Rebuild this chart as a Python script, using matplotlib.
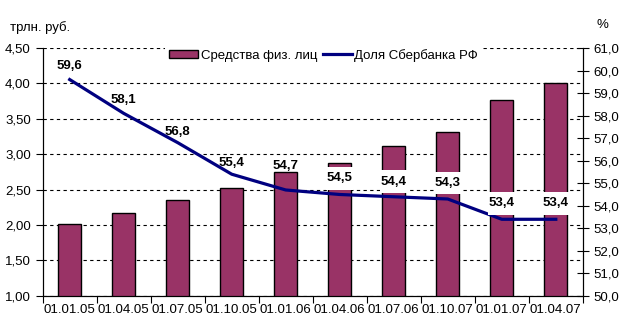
import matplotlib
matplotlib.use("Agg")
import matplotlib.pyplot as plt
from matplotlib.path import Path
import numpy as np

plt.rcParams['font.family'] = ['Liberation Sans', 'DejaVu Sans']

dates = ["01.01.05", "01.04.05", "01.07.05", "01.10.05", "01.01.06",
         "01.04.06", "01.07.06", "01.10.07", "01.01.07", "01.04.07"]
deposits = [2.02, 2.17, 2.36, 2.52, 2.745, 2.88, 3.11, 3.32, 3.77, 4.00]
share = [59.6, 58.1, 56.8, 55.4, 54.7, 54.5, 54.4, 54.3, 53.4, 53.4]

# how far above the point each label sits (pixels), and whether it has a white box
label_lift = [14, 13, 11, 11, 24, 16, 15, 16, 16, 16]
label_boxed = [False, False, False, False, False, True, True, True, True, True]

bar_color = "#993366"
line_color = "#000080"


def label_box(x0, y0, width, height, mutation_size, *args):
    # narrow sideways, tall up and down, like the excel labels
    px = 0.05 * mutation_size
    py = 0.4 * mutation_size
    x0, y0 = x0 - px, y0 - py
    x1, y1 = x0 + width + 2 * px, y0 + height + 2 * py
    return Path([(x0, y0), (x1, y0), (x1, y1), (x0, y1), (x0, y0)], closed=True)


fig = plt.figure(figsize=(6.24, 3.31), dpi=100)
ax = fig.add_axes([0.0684, 0.106, 0.8656, 0.749])
x = np.arange(len(dates))

# bars on the left axis
ax.bar(x, deposits, width=0.42, color=bar_color, edgecolor="black",
       linewidth=1.0, zorder=2, label="Средства физ. лиц")
ax.set_ylim(1.0, 4.5)
left_ticks = np.arange(1.0, 4.51, 0.5)
ax.set_yticks(left_ticks)
ax.set_yticklabels([("%.2f" % v).replace(".", ",") for v in left_ticks])
ax.yaxis.grid(True, linestyle=(0, (3, 3)), color="black", linewidth=0.8, zorder=0)
ax.set_axisbelow(True)
ax.set_xlim(-0.5, len(dates) - 0.5)
ax.set_xticks(np.arange(-0.5, len(dates), 1.0))
ax.set_xticklabels([])
ax.set_xticks(x, minor=True)
ax.set_xticklabels(dates, minor=True)
ax.tick_params(axis="x", which="minor", length=0, labelsize=9.5, pad=6)
ax.tick_params(axis="x", which="major", length=5, direction="out")
ax.tick_params(axis="y", length=5, direction="out", labelsize=9.5)
ax.spines["top"].set_visible(False)

# share line on the right axis
ax2 = ax.twinx()
ax2.plot(x, share, color=line_color, linewidth=2.3, zorder=3,
         label="Доля Сбербанка РФ")
ax2.set_ylim(50.0, 61.0)
right_ticks = np.arange(50.0, 61.1, 1.0)
ax2.set_yticks(right_ticks)
ax2.set_yticklabels([("%.1f" % v).replace(".", ",") for v in right_ticks])
ax2.tick_params(axis="y", length=8, direction="inout", labelsize=9.5)
ax2.spines["top"].set_visible(False)

for xi, yi, lift, boxed in zip(x, share, label_lift, label_boxed):
    box = None
    if boxed:
        box = dict(boxstyle=label_box, fc="white", ec="none")
    ax2.annotate(("%.1f" % yi).replace(".", ","), (xi, yi),
                 xytext=(0, lift * 0.72), textcoords="offset points",
                 ha="center", va="center", fontsize=9.5, fontweight="bold",
                 bbox=box, zorder=4)

h1, l1 = ax.get_legend_handles_labels()
h2, l2 = ax2.get_legend_handles_labels()
leg = ax2.legend(h1 + h2, l1 + l2, loc="upper center", bbox_to_anchor=(0.52, 1.04),
                 ncol=2, frameon=True, fontsize=9.5, handlelength=2.2,
                 handleheight=0.6, columnspacing=0.4, handletextpad=0.2,
                 borderpad=0.3, fancybox=False)
leg.get_frame().set_edgecolor("none")
leg.get_frame().set_facecolor("white")
leg.get_frame().set_alpha(1.0)

fig.text(0.016, 0.918, "трлн. руб.", fontsize=9.5, va="center", ha="left")
fig.text(0.966, 0.925, "%", fontsize=9.5, va="center", ha="center")

fig.savefig("out.png", dpi=100)
